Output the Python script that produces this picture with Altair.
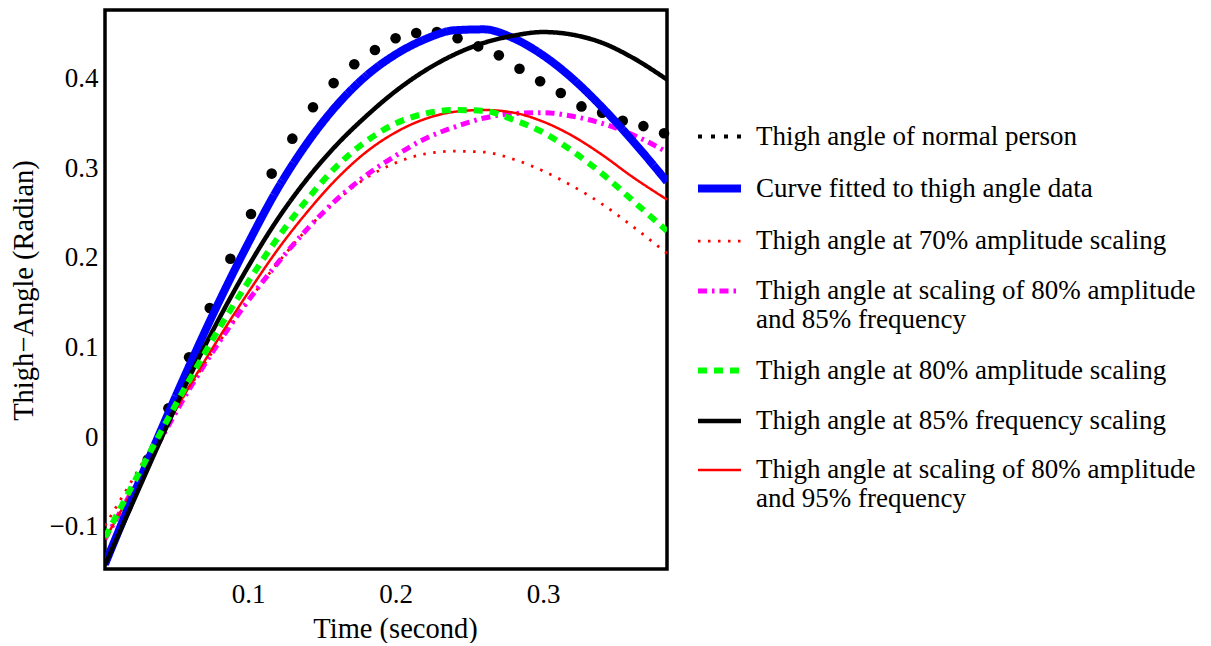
import altair as alt
import pandas as pd

# ---- data ----
T = [0.003, 0.02, 0.04, 0.06, 0.08, 0.10, 0.12, 0.14, 0.16, 0.18, 0.20,
     0.22, 0.24, 0.26, 0.28, 0.30, 0.32, 0.34, 0.36, 0.384]

fitted = [-0.142, -0.074, 0.004, 0.079, 0.150, 0.216, 0.277, 0.328, 0.370, 0.403,
          0.427, 0.444, 0.454, 0.455, 0.445, 0.426, 0.400, 0.368, 0.332, 0.285]
amp70 = [-0.099, -0.052, 0.003, 0.055, 0.105, 0.151, 0.194, 0.232, 0.264, 0.289,
         0.306, 0.316, 0.319, 0.318, 0.310, 0.297, 0.280, 0.260, 0.236, 0.205]
amp80_freq85 = [-0.114, -0.064, -0.005, 0.053, 0.105, 0.152, 0.194, 0.232, 0.265, 0.292,
                0.314, 0.333, 0.346, 0.356, 0.361, 0.362, 0.358, 0.350, 0.338, 0.318]
amp80 = [-0.112, -0.059, 0.003, 0.063, 0.120, 0.173, 0.222, 0.265, 0.302, 0.330,
         0.350, 0.361, 0.365, 0.364, 0.354, 0.340, 0.319, 0.294, 0.265, 0.230]
freq85 = [-0.143, -0.080, -0.006, 0.066, 0.131, 0.190, 0.243, 0.288, 0.326, 0.358,
          0.386, 0.409, 0.427, 0.440, 0.448, 0.452, 0.449, 0.440, 0.424, 0.399]
amp80_freq95 = [-0.114, -0.064, -0.002, 0.056, 0.110, 0.161, 0.209, 0.251, 0.288, 0.318,
                0.340, 0.355, 0.363, 0.365, 0.362, 0.352, 0.336, 0.315, 0.291, 0.265]

dot_t = [0.018, 0.032, 0.046, 0.060, 0.074, 0.088, 0.102, 0.116, 0.130, 0.144,
         0.158, 0.172, 0.186, 0.200, 0.214, 0.228, 0.242, 0.256, 0.270, 0.284,
         0.298, 0.312, 0.326, 0.340, 0.354, 0.368, 0.382]
dot_y = [-0.079, -0.025, 0.032, 0.089, 0.144, 0.199, 0.249, 0.294, 0.333, 0.368,
         0.395, 0.416, 0.432, 0.445, 0.451, 0.452, 0.445, 0.436, 0.426, 0.411,
         0.397, 0.384, 0.369, 0.362, 0.353, 0.347, 0.339]

SERIES = [
    "Thigh angle of normal person",
    "Curve fitted to thigh angle data",
    "Thigh angle at 70% amplitude scaling",
    "Thigh angle at scaling of 80% amplitude and 85% frequency",
    "Thigh angle at 80% amplitude scaling",
    "Thigh angle at 85% frequency scaling",
    "Thigh angle at scaling of 80% amplitude and 95% frequency",
]
COLORS = ["#000000", "#0000ff", "#ff0000", "#ff00ff", "#00ff00", "#000000", "#ff0000"]
DASHES = [[4, 9], [1, 0], [2.5, 7.5], [9, 5, 2.5, 5], [9, 7], [1, 0], [1, 0]]
WIDTHS = [4, 8, 2.75, 5, 6, 4.5, 2.5]

X_TICKS = [0.1, 0.2, 0.3]
Y_TICKS = [-0.1, 0, 0.1, 0.2, 0.3, 0.4]

# ---- tables ----
curves = [
    (SERIES[2], amp70),
    (SERIES[3], amp80_freq85),
    (SERIES[6], amp80_freq95),
    (SERIES[1], fitted),
    (SERIES[5], freq85),
    (SERIES[4], amp80),
]
rows = []
for name, vals in curves:
    for t, v in zip(T, vals):
        rows.append({"t": t, "y": v, "series": name})
line_df = pd.DataFrame(rows)
dot_df = pd.DataFrame({"t": dot_t, "y": dot_y})

# One shared domain for colour, dash and width: a 0.25 px grid of width slots
# from 2.5 to 8 px (point scale), each series sitting in the slot of its width;
# unused slots are placeholders that never appear (legend values = SERIES).
W_MIN, W_MAX, W_STEP = 2.5, 8.0, 0.25
n_slots = int(round((W_MAX - W_MIN) / W_STEP)) + 1
slot_of = {int(round((w - W_MIN) / W_STEP)): s for s, w in zip(SERIES, WIDTHS)}
domain = [slot_of.get(i, "slot %d" % i) for i in range(n_slots)]
color_of = dict(zip(SERIES, COLORS))
dash_of = dict(zip(SERIES, DASHES))
color_range = [color_of.get(d, "#ffffff") for d in domain]
dash_range = [dash_of.get(d, [1, 0]) for d in domain]

FONT = "Liberation Serif"

x_scale = alt.Scale(domain=[0.003, 0.384], nice=False, zero=False)
y_scale = alt.Scale(domain=[-0.1473, 0.4766], nice=False, zero=False)

x_axis = alt.Axis(
    title="Time (second)", values=X_TICKS, labelExpr="format(datum.value, '.1f')",
    labelPadding=12, titleX=290, titleY=68, titleBaseline="alphabetic",
    titleAlign="center", titleAngle=0,
)
y_axis = alt.Axis(
    title="Thigh\u2212Angle (Radian)", values=Y_TICKS,
    labelExpr="datum.value == 0 ? '0' : replace(format(datum.value, '.1f'), '-', '\u2212')",
    labelPadding=7, titleX=-73, titleY=280, titleAngle=-90,
    titleBaseline="alphabetic", titleAlign="center",
)

legend = alt.Legend(
    title=None, orient="none", legendX=589, legendY=103, padding=0,
    values=SERIES,
    symbolType="stroke", symbolSize=1849, labelFont=FONT, labelFontSize=27,
    labelColor="black", labelLimit=600, labelOffset=11, rowPadding=13,
    labelBaseline="middle",
    labelExpr="split(replace(datum.label, ' and ', '| and '), '|')",
)

dots = alt.Chart(dot_df).mark_circle(size=112, color="black", opacity=1).encode(
    x=alt.X("t:Q", scale=x_scale, axis=x_axis),
    y=alt.Y("y:Q", scale=y_scale, axis=y_axis),
)

lines = alt.Chart(line_df).mark_line(interpolate="monotone", clip=True).encode(
    x=alt.X("t:Q", scale=x_scale, axis=x_axis),
    y=alt.Y("y:Q", scale=y_scale, axis=y_axis),
    color=alt.Color("series:N", scale=alt.Scale(domain=domain, range=color_range), legend=legend),
    strokeDash=alt.StrokeDash("series:N", scale=alt.Scale(domain=domain, range=dash_range), legend=legend),
    strokeWidth=alt.StrokeWidth(
        "series:N",
        scale=alt.Scale(type="point", domain=domain, range=[W_MIN, W_MAX], padding=0),
        legend=legend,
    ),
)

chart = alt.layer(dots, lines).properties(
    width=562, height=559,
    autosize=alt.AutoSizeParams(type="none"),
    padding={"left": 97, "top": 2, "right": 534, "bottom": 74},
).configure_view(
    stroke="black", strokeWidth=3.5
).configure_axis(
    labelFont=FONT, labelFontSize=27, labelColor="black",
    titleFont=FONT, titleFontSize=28.5, titleColor="black", titleFontWeight="normal",
    grid=False, domain=False, ticks=False, tickSize=0,
)

chart.save("out.html", embed_options={"renderer": "svg", "actions": False})
